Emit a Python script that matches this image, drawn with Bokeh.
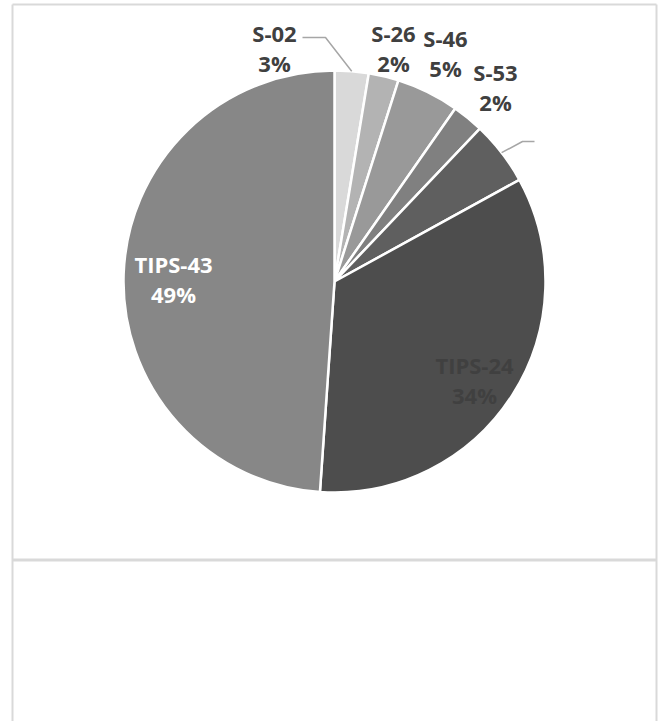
import math
from bokeh.plotting import figure
from bokeh.models import Range1d, ColumnDataSource
from bokeh.core.properties import value
from bokeh.embed import file_html
from bokeh.resources import INLINE

# ---- data (clockwise from 12 o'clock) ----
categories = ["S-02", "S-26", "S-46", "S-53", "", "TIPS-24", "TIPS-43"]
shares = [2.6, 2.3, 4.8, 2.4, 4.9, 34.1, 48.9]
pct_labels = ["3%", "2%", "5%", "2%", "", "34%", "49%"]
colors = ["#d9d9d9", "#b3b3b3", "#999999", "#808080", "#5f5f5f", "#4d4d4d", "#878787"]

# ---- label layout (pixel positions of label blocks, y measured from top) ----
lab_x = [274, 393, 445, 495, 560, 474, 173]
lab_y = [47, 47, 52, 86, 141, 379, 278]
lab_color = ["#404040", "#404040", "#404040", "#404040", "#ffffff", "#404040", "#ffffff"]
leader = {0: [(325, 37), (302, 37)], 4: [(522, 141), (534, 141)]}

W, H = 665, 721
CX, CY, R = 334, 281, 211

def fy(y):
    return H - y

total = sum(shares)
starts, ends = [], []
acc = 0.0
for s in shares:
    a0 = math.pi / 2 - 2 * math.pi * (acc + s) / total
    a1 = math.pi / 2 - 2 * math.pi * acc / total
    starts.append(a0)
    ends.append(a1)
    acc += s

p = figure(width=W, height=H, x_range=Range1d(0, W), y_range=Range1d(0, H),
           output_backend="svg", toolbar_location=None, min_border=0)
p.axis.visible = False
p.grid.visible = False
p.outline_line_color = None
p.background_fill_color = "white"
p.border_fill_color = "white"

# chart frame
frame_col = "#d9d9d9"
p.line([12, 12], [fy(4), fy(725)], line_color=frame_col, line_width=2)
p.line([656, 656], [fy(4), fy(725)], line_color=frame_col, line_width=2)
p.line([12, 656], [fy(4), fy(4)], line_color=frame_col, line_width=2)
p.line([12, 656], [fy(559.5), fy(559.5)], line_color=frame_col, line_width=3)

src = ColumnDataSource(dict(start=starts, end=ends, color=colors))
p.wedge(x=CX, y=fy(CY), radius=R, start_angle="start", end_angle="end",
        fill_color="color", line_color="white", line_width=2.5, source=src)

# leader lines
for i, pts in leader.items():
    mid = (starts[i] + ends[i]) / 2
    x0 = CX + R * math.cos(mid)
    y0 = fy(CY) + R * math.sin(mid)
    xs = [x0] + [q[0] for q in pts]
    ys = [y0] + [fy(q[1]) for q in pts]
    p.line(xs, ys, line_color="#a6a6a6", line_width=1.5)

font = value("Open Sans")
for i in range(len(categories)):
    if not categories[i]:
        continue
    p.text([lab_x[i]], [fy(lab_y[i] - 15)], text=[categories[i]], text_font=font,
           text_font_size="22px", text_font_style="bold", text_color=lab_color[i],
           text_align="center", text_baseline="middle")
    p.text([lab_x[i]], [fy(lab_y[i] + 15)], text=[pct_labels[i]], text_font=font,
           text_font_size="22px", text_font_style="bold", text_color=lab_color[i],
           text_align="center", text_baseline="middle")

open("out.html", "w").write(file_html(p, INLINE))
